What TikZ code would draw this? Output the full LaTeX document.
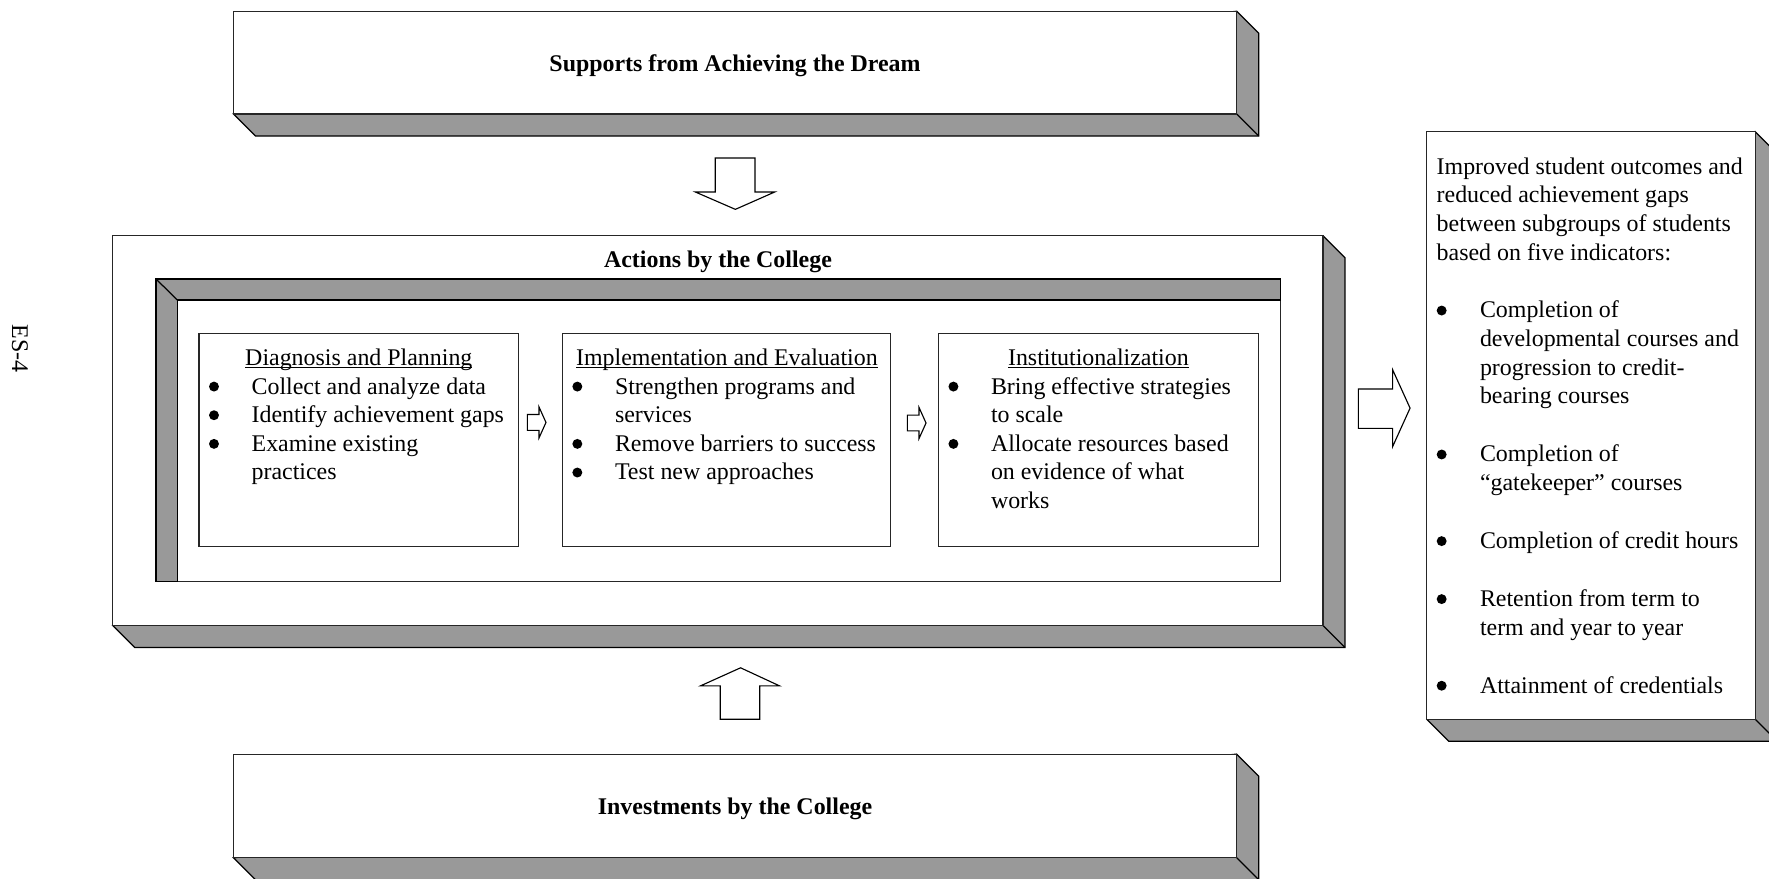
\documentclass[tikz,border=0pt]{standalone}
\usepackage{fontspec}
\setmainfont{Liberation Serif}
\usetikzlibrary{calc}
\definecolor{sidegray}{RGB}{153,153,153}
\newcommand\myul[1]{\setbox0\hbox{#1}\rlap{\rule[-1.2pt]{\wd0}{0.45pt}}\box0}
\newcommand\bul{\tikz[baseline=0pt,x=1pt,y=1pt]\fill[black] (0,3.3) circle (2.2);}
\tikzset{
  face/.style={fill=sidegray, draw=black, line width=0.55pt, line join=miter},
  edge/.style={draw=black, line width=0.55pt},
  front/.style={fill=white, draw=black!85, line width=0.5pt},
  blockarrow/.style={fill=white, draw=black, line width=0.5pt, line join=miter},
  txt/.style={inner sep=0pt, outer sep=0pt, font=\fontsize{10.6}{12.7}\selectfont},
  rtxt/.style={inner sep=0pt, outer sep=0pt, font=\fontsize{10.6}{12.7}\selectfont},
  titletxt/.style={inner sep=0pt, outer sep=0pt, font=\fontsize{10.6}{12.7}\selectfont\bfseries},
}
% 3D box: L T R B depth
\newcommand\tdbox[5]{%
  \draw[face] (#3,#2) -- ({#3+#5},{#2+#5}) -- ({#3+#5},{#4+#5}) -- ({#1+#5},{#4+#5}) -- (#1,#4) -- cycle;
  \draw[edge] (#3,#4) -- ({#3+#5},{#4+#5});
  \draw[front] (#1,#2) rectangle (#3,#4);
}
% small block arrow: x0, y-centre
\newcommand\smallarrow[2]{%
  \draw[blockarrow] (#1,{#2-7}) -- ({#1+10.3},{#2-7}) -- ({#1+10.3},{#2-13.8}) -- ({#1+16.5},#2)
    -- ({#1+10.3},{#2+13.8}) -- ({#1+10.3},{#2+7}) -- (#1,{#2+7}) -- cycle;
}
\begin{document}
\begin{tikzpicture}[x=0.5pt,y=-0.5pt]
\useasboundingbox (0,0) rectangle (1568.2,779.2);
\clip (0,0) rectangle (1568.2,779.2);

% page number
\node[txt, rotate=-90] (page) at (17.7,308.8) {ES-4};

% Supports box
\tdbox{207}{10}{1096.3}{101.1}{19.5}
\node[titletxt, anchor=base] (supports) at (651.6,63) {Supports from Achieving the Dream};

% down arrow
\draw[blockarrow] (634.1,140.1) -- (669.3,140.1) -- (669.3,170.2) -- (686.8,170.2) -- (651.9,185.6)
  -- (616.4,170.2) -- (634.1,170.2) -- cycle;

% Actions box
\tdbox{100}{209}{1172.8}{554.5}{19.5}
\node[titletxt, anchor=base] (actions) at (636.5,237) {Actions by the College};

% inner frame
\draw[front] (138.3,247.3) rectangle (1134.8,515.7);
\draw[face] (138.3,247.3) -- (1134.8,247.3) -- (1134.8,266) -- (157.2,266) -- (157.2,515.7) -- (138.3,515.7) -- cycle;
\draw[edge] (138.3,247.3) -- (157.2,266);

% three stage boxes
\draw[front] (176.4,295.5) rectangle (459.5,484.7);
\draw[front] (498.5,295.5) rectangle (789.6,484.7);
\draw[front] (831.9,295.5) rectangle (1115.5,484.7);

\node[txt, anchor=base] (h1) at (318.1,323.6) {\myul{Diagnosis and Planning}};
\node[txt, anchor=base west] (l1) at (185.3,349.3) {\begin{tabular}[t]{@{}p{18.9pt}@{}l@{}}
\bul & Collect and analyze data\\
\bul & Identify achievement gaps\\
\bul & Examine existing\\
 & practices
\end{tabular}};

\node[txt, anchor=base] (h2) at (644.4,323.6) {\myul{Implementation and Evaluation}};
\node[txt, anchor=base west] (l2) at (507.4,349.3) {\begin{tabular}[t]{@{}p{18.9pt}@{}l@{}}
\bul & Strengthen programs and\\
 & services\\
\bul & Remove barriers to success\\
\bul & Test new approaches
\end{tabular}};

\node[txt, anchor=base] (h3) at (973.7,323.6) {\myul{Institutionalization}};
\node[txt, anchor=base west] (l3) at (840.8,349.3) {\begin{tabular}[t]{@{}p{18.85pt}@{}l@{}}
\bul & Bring effective strategies\\
 & to scale\\
\bul & Allocate resources based\\
 & on evidence of what\\
 & works
\end{tabular}};

% small arrows between stages
\smallarrow{467.5}{374.5}
\smallarrow{804.4}{375}

% right arrow
\draw[blockarrow] (1204.2,344.8) -- (1234.5,344.8) -- (1234.5,327.7) -- (1250,361.8) -- (1234.5,396)
  -- (1234.5,379.7) -- (1204.2,379.7) -- cycle;

% outcomes box
\tdbox{1264.8}{116.7}{1555.9}{637.6}{19.5}
\node[rtxt, anchor=base west] (outcomes) at (1273.6,154.3) {\begin{tabular}[t]{@{}p{19.2pt}@{}l@{}}
\multicolumn{2}{@{}l@{}}{Improved student outcomes and}\\
\multicolumn{2}{@{}l@{}}{reduced achievement gaps}\\
\multicolumn{2}{@{}l@{}}{between subgroups of students}\\
\multicolumn{2}{@{}l@{}}{based on five indicators:}\\[13pt]
\bul & Completion of\\
 & developmental courses and\\
 & progression to credit-\\
 & bearing courses\\[13pt]
\bul & Completion of\\
 & “gatekeeper” courses\\[13pt]
\bul & Completion of credit hours\\[13pt]
\bul & Retention from term to\\
 & term and year to year\\[13pt]
\bul & Attainment of credentials
\end{tabular}};

% up arrow
\draw[blockarrow] (638.5,637.6) -- (673.5,637.6) -- (673.5,608) -- (691,608) -- (656.5,592)
  -- (621,608) -- (638.5,608) -- cycle;

% Investments box
\tdbox{207}{668.5}{1096.3}{760.4}{19.5}
\node[titletxt, anchor=base] (investments) at (651.6,721.7) {Investments by the College};
\end{tikzpicture}
\end{document}
